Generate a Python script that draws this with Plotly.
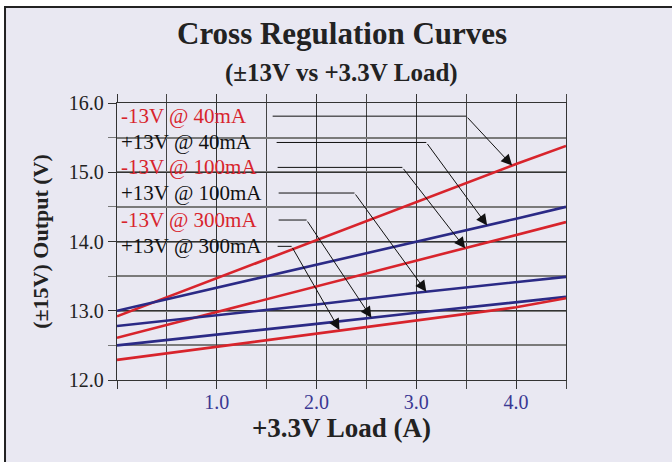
"""
Cross regulation curves: +/-13V rail outputs against +3.3V load current.
"""
import numpy as np
import plotly.graph_objects as go

# +3.3V load (A)
load = [0.0, 1.0, 2.0, 3.0, 4.0, 4.5]

# output voltage (V) for each curve
neg_40ma = [12.92, 13.47, 14.02, 14.57, 15.12, 15.38]
pos_40ma = [13.00, 13.33, 13.66, 13.99, 14.33, 14.50]
neg_100ma = [12.61, 12.98, 13.35, 13.72, 14.09, 14.28]
pos_100ma = [12.78, 12.93, 13.09, 13.26, 13.41, 13.49]
pos_300ma = [12.50, 12.65, 12.81, 12.97, 13.12, 13.20]
neg_300ma = [12.29, 12.48, 12.68, 12.87, 13.05, 13.18]

labels = ["-13V @ 40mA", "+13V @ 40mA", "-13V @ 100mA",
          "+13V @ 100mA", "-13V @ 300mA", "+13V @ 300mA"]
label_y = [15.81, 15.43, 15.07, 14.70, 14.31, 13.93]

x_ticks = [0, 1, 2, 3, 4]
x_tick_text = ["", "1.0", "2.0", "3.0", "4.0"]
y_ticks = [12, 13, 14, 15, 16]
y_tick_text = ["12.0", "13.0", "14.0", "15.0", "16.0"]

RED = "#d8242c"
NAVY = "#2b2a86"
SERIF = "Liberation Serif, Times New Roman, serif"

# (curve, colour) in drawing order
curves = [(neg_40ma, RED), (pos_40ma, NAVY), (neg_100ma, RED),
          (pos_100ma, NAVY), (pos_300ma, NAVY), (neg_300ma, RED)]

# leader lines: label start x, corner x, arrow tip x, curve pointed at
leader_start = [1.56, 1.60, 1.61, 1.62, 1.62, 1.61]
leader_corner = [3.50, 3.10, 2.86, 2.38, 1.90, 1.75]
leader_tip = [3.96, 3.71, 3.49, 3.10, 2.55, 2.23]
leader_target = [neg_40ma, pos_40ma, neg_100ma, pos_100ma, pos_300ma, neg_300ma]

fig = go.Figure()

for values, color in curves:
    fig.add_trace(go.Scatter(x=load, y=values, mode="lines",
                             line=dict(color=color, width=2.6),
                             showlegend=False, hoverinfo="skip"))

# frame round the whole chart
fig.add_shape(type="rect", xref="paper", yref="paper",
              x0=-0.2494, y0=-0.6, x1=1.6, y1=1.3466,
              line=dict(color="#222", width=2), fillcolor="#e9e8f2",
              layer="below")

# title and subtitle
fig.add_annotation(xref="paper", yref="paper", x=0.501, y=1.2527,
                   text="<b>Cross Regulation Curves</b>", showarrow=False,
                   xanchor="center", yanchor="middle",
                   font=dict(family=SERIF, size=31, color="#222"))
fig.add_annotation(xref="paper", yref="paper", x=0.501, y=1.1083,
                   text="<b>(±13V vs +3.3V Load)</b>", showarrow=False,
                   xanchor="center", yanchor="middle",
                   font=dict(family=SERIF, size=25, color="#222"))

for i, text in enumerate(labels):
    fig.add_annotation(x=0.02, y=label_y[i], text=text, showarrow=False,
                       xanchor="left", yanchor="middle",
                       font=dict(family=SERIF, size=21,
                                 color=RED if text.startswith("-") else "#111"))

    tip_y = float(np.interp(leader_tip[i], load, leader_target[i]))
    fig.add_shape(type="line", x0=leader_start[i], y0=label_y[i],
                  x1=leader_corner[i], y1=label_y[i],
                  line=dict(color="#111", width=1))
    fig.add_annotation(x=leader_tip[i], y=tip_y, ax=leader_corner[i], ay=label_y[i],
                       axref="x", ayref="y", text="", showarrow=True,
                       arrowhead=2, arrowsize=2.2, arrowwidth=1, arrowcolor="#111")

fig.update_layout(
    width=672, height=462,
    margin=dict(l=117, r=106, t=103, b=82),
    paper_bgcolor="white", plot_bgcolor="white",
    font=dict(family=SERIF, color="#222"),
)

fig.update_xaxes(
    range=[0, 4.5], tickvals=x_ticks, ticktext=x_tick_text,
    ticks="outside", ticklen=8, tickcolor="#333", tickwidth=1.3,
    showline=True, linecolor="#333", linewidth=1.3, mirror="allticks",
    showgrid=True, gridcolor="#333", gridwidth=1.3,
    minor=dict(dtick=0.5, tick0=0, ticks="outside", ticklen=8, tickcolor="#444",
               showgrid=True, gridcolor="#444", gridwidth=1.3),
    tickfont=dict(family=SERIF, size=20, color="#3b3893"),
    ticklabelstandoff=-4,
    title=dict(text="<b>+3.3V Load (A)</b>", font=dict(family=SERIF, size=27, color="#222"),
               standoff=4),
    zeroline=False, fixedrange=True,
)
fig.update_yaxes(
    range=[12, 16], tickvals=y_ticks, ticktext=y_tick_text,
    ticks="outside", ticklen=8, tickcolor="#333", tickwidth=1.3,
    showline=True, linecolor="#333", linewidth=1.3, mirror=True,
    showgrid=True, gridcolor="#333", gridwidth=1.3,
    minor=dict(dtick=0.5, tick0=12, ticks="outside", ticklen=8, tickcolor="#777",
               showgrid=True, gridcolor="#7a7a7a", gridwidth=1.5),
    tickfont=dict(family=SERIF, size=20, color="#222"),
    title=dict(text="<b>(±15V) Output (V)</b>", font=dict(family=SERIF, size=22, color="#222"),
               standoff=14),
    zeroline=False, fixedrange=True,
)

fig.write_html("out.html", config={"displayModeBar": False},
               post_script="document.body.style.margin = '0';")
